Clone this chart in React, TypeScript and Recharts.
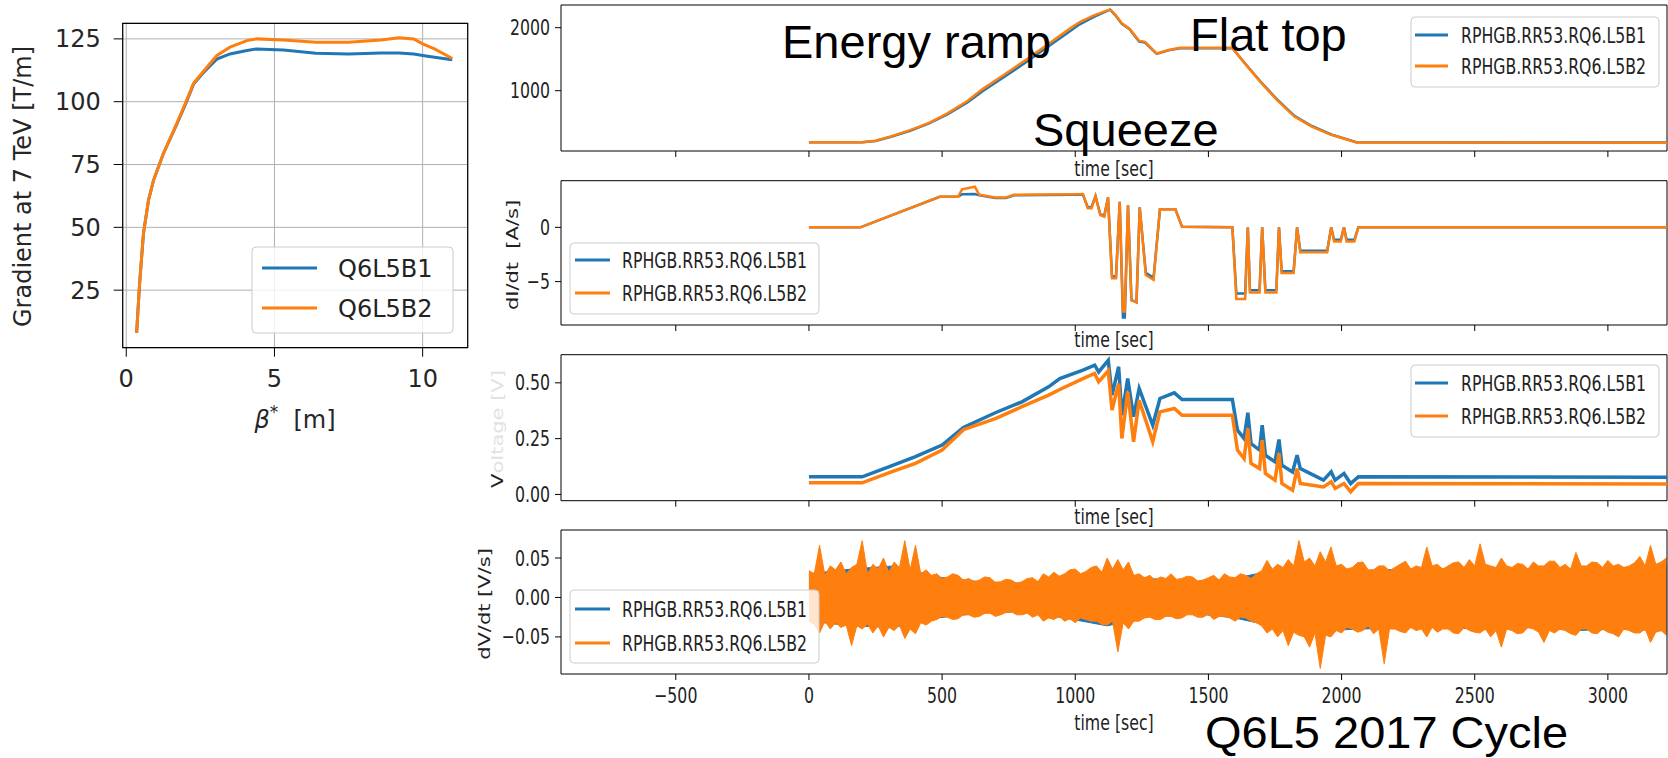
import React from 'react';
import { LineChart, Line, XAxis, YAxis, CartesianGrid, ReferenceArea, ComposedChart, Area } from 'recharts';

const C0 = '#1f77b4';
const C1 = '#ff7f0e';

// ---------- left: gradient vs beta* ----------
const betaStar = [0.35, 0.45, 0.58, 0.75, 0.92, 1.25, 1.71, 2.0, 2.27, 2.6, 3.06, 3.5, 4.07, 4.4, 5.3, 6.4, 7.5, 8.6, 9.2, 9.7, 10.0, 10.4, 11.0];
const gradQ6L5B1 = [8, 27.6, 47.5, 60.8, 68.7, 79.3, 91.2, 99, 107, 111.5, 117, 119, 120.4, 121, 120.6, 119.3, 119, 119.4, 119.4, 119, 118.4, 117.7, 116.7];
const gradQ6L5B2 = [8, 27.6, 47.5, 60.8, 68.7, 79.3, 91.5, 99.5, 107.3, 112, 118.4, 121.7, 124.3, 125, 124.6, 123.7, 123.7, 124.6, 125.4, 125, 123, 121, 117.2];
const betaTicks = [0, 5, 10];
const gradTicks = [25, 50, 75, 100, 125];

// ---------- right: time series ----------
const timeTicks = [-500, 0, 500, 1000, 1500, 2000, 2500, 3000];
const timeDomain: [number, number] = [-931, 3222];

// current [A]
const currentT = [0, 200, 250, 308, 380, 451, 520, 595, 652, 730, 811, 900, 980, 1015, 1070, 1131, 1150, 1175, 1204, 1225, 1240, 1262, 1306, 1350, 1393, 1590, 1641, 1699, 1757, 1823, 1888, 1961, 2056, 3222];
const currentB1 = [181, 181, 203, 270, 365, 482, 625, 815, 990, 1210, 1440, 1705, 1945, 2050, 2170, 2285, 2200, 2060, 1975, 1860, 1780, 1765, 1585, 1640, 1675, 1675, 1415, 1130, 865, 600, 440, 305, 182, 178];
const currentB2 = [181, 181, 205, 275, 375, 490, 640, 835, 1025, 1245, 1480, 1745, 1985, 2085, 2195, 2290, 2210, 2070, 1985, 1870, 1790, 1775, 1590, 1645, 1680, 1680, 1410, 1120, 855, 590, 430, 300, 178, 175];
const currentTicks = [1000, 2000];

// dI/dt [A/s]
const didtT = [0, 193, 491, 560, 575, 623, 640, 700, 740, 770, 1000, 1029, 1047, 1061, 1076, 1094, 1109, 1123, 1138, 1153, 1167, 1179, 1186, 1198, 1211, 1230, 1242, 1265, 1294, 1318, 1376, 1401, 1590, 1605, 1638, 1648, 1656, 1692, 1702, 1714, 1755, 1765, 1775, 1820, 1833, 1845, 1946, 1961, 1972, 1997, 2009, 2019, 2048, 2063, 3222];
const didtB1 = [0, 0, 2.82, 2.82, 3.05, 3.07, 2.95, 2.7, 2.7, 2.95, 3.0, 3.0, 1.85, 1.85, 2.88, 1.2, 1.1, 2.76, -4.5, -4.55, 2.36, -8.3, -8.3, 2.06, -6.7, -6.9, 1.84, -4.2, -4.65, 1.66, 1.66, 0.05, 0, -6.1, -6.1, 0, -5.8, -5.8, 0, -5.8, -5.8, 0, -4.05, -4.05, 0, -2.15, -2.15, 0, -1.15, -1.15, 0, -1.15, -1.15, 0, 0];
const didtB2 = [0, 0, 2.82, 2.82, 3.5, 3.74, 3.0, 2.75, 2.75, 3.0, 3.05, 3.07, 1.75, 1.75, 2.88, 1.13, 0.98, 2.76, -4.7, -4.7, 2.36, -7.76, -7.76, 2.06, -6.69, -6.93, 1.84, -4.4, -4.85, 1.66, 1.66, 0.05, 0, -6.6, -6.6, 0, -6.0, -6.0, 0, -6.0, -6.0, 0, -4.2, -4.2, 0, -2.3, -2.3, 0, -1.3, -1.3, 0, -1.3, -1.3, 0, 0];
const didtTicks = [-5, 0];

// Voltage [V]
const voltT = [0, 200, 307, 400, 500, 580, 700, 800, 900, 942, 1029, 1073, 1088, 1124, 1138, 1163, 1175, 1197, 1219, 1240, 1291, 1318, 1372, 1401, 1590, 1609, 1634, 1648, 1660, 1692, 1702, 1714, 1750, 1765, 1776, 1816, 1833, 1845, 1932, 1961, 1976, 2009, 2034, 2063, 3222];
const voltB1 = [0.079, 0.079, 0.127, 0.169, 0.221, 0.30, 0.366, 0.415, 0.482, 0.519, 0.557, 0.579, 0.549, 0.601, 0.445, 0.572, 0.355, 0.519, 0.348, 0.475, 0.31, 0.43, 0.455, 0.425, 0.425, 0.288, 0.251, 0.366, 0.228, 0.199, 0.31, 0.176, 0.146, 0.246, 0.131, 0.101, 0.176, 0.116, 0.064, 0.101, 0.064, 0.094, 0.049, 0.079, 0.077];
const voltB2 = [0.052, 0.052, 0.10, 0.139, 0.199, 0.29, 0.34, 0.393, 0.445, 0.47, 0.519, 0.542, 0.504, 0.554, 0.378, 0.497, 0.251, 0.46, 0.236, 0.422, 0.236, 0.37, 0.385, 0.355, 0.355, 0.199, 0.161, 0.296, 0.139, 0.116, 0.243, 0.094, 0.064, 0.184, 0.049, 0.019, 0.116, 0.049, 0.034, 0.057, 0.027, 0.049, 0.012, 0.049, 0.047];
const voltTicks = [0, 0.25, 0.5];

// dV/dt [V/s] noise envelopes (B2 read every 20 s, B1 every 160 s)
const dvdtT2 = [
  0, 20, 40, 60, 80, 100, 120, 140, 160, 180,
  200, 220, 240, 260, 280, 300, 320, 340, 360, 380,
  400, 420, 440, 460, 480, 500, 520, 540, 560, 580,
  600, 620, 640, 660, 680, 700, 720, 740, 760, 780,
  800, 820, 840, 860, 880, 900, 920, 940, 960, 980,
  1000, 1020, 1040, 1060, 1080, 1100, 1120, 1140, 1160, 1180,
  1200, 1220, 1240, 1260, 1280, 1300, 1320, 1340, 1360, 1380,
  1400, 1420, 1440, 1460, 1480, 1500, 1520, 1540, 1560, 1580,
  1600, 1620, 1640, 1660, 1680, 1700, 1720, 1740, 1760, 1780,
  1800, 1820, 1840, 1860, 1880, 1900, 1920, 1940, 1960, 1980,
  2000, 2020, 2040, 2060, 2080, 2100, 2120, 2140, 2160, 2180,
  2200, 2220, 2240, 2260, 2280, 2300, 2320, 2340, 2360, 2380,
  2400, 2420, 2440, 2460, 2480, 2500, 2520, 2540, 2560, 2580,
  2600, 2620, 2640, 2660, 2680, 2700, 2720, 2740, 2760, 2780,
  2800, 2820, 2840, 2860, 2880, 2900, 2920, 2940, 2960, 2980,
  3000, 3020, 3040, 3060, 3080, 3100, 3120, 3140, 3160, 3180,
  3200, 3220,
];
const dvdtB2Hi = [
  0.034, 0.03, 0.066, 0.028, 0.04, 0.035, 0.045, 0.03, 0.038, 0.042,
  0.072, 0.03, 0.042, 0.036, 0.05, 0.032, 0.045, 0.038, 0.072, 0.035,
  0.066, 0.03, 0.035, 0.028, 0.03, 0.024, 0.026, 0.03, 0.028, 0.022,
  0.024, 0.02, 0.022, 0.026, 0.025, 0.019, 0.02, 0.023, 0.022, 0.018,
  0.02, 0.024, 0.025, 0.02, 0.03, 0.026, 0.032, 0.027, 0.03, 0.035,
  0.036, 0.03, 0.033, 0.038, 0.04, 0.032, 0.05, 0.036, 0.048, 0.035,
  0.045, 0.028, 0.03, 0.025, 0.028, 0.022, 0.026, 0.024, 0.03, 0.023,
  0.024, 0.027, 0.026, 0.021, 0.022, 0.025, 0.028, 0.022, 0.03, 0.026,
  0.025, 0.03, 0.028, 0.024, 0.03, 0.034, 0.047, 0.036, 0.042, 0.038,
  0.048, 0.04, 0.072, 0.045, 0.05, 0.04, 0.058, 0.045, 0.064, 0.04,
  0.042, 0.036, 0.038, 0.044, 0.045, 0.035, 0.035, 0.04, 0.04, 0.034,
  0.038, 0.042, 0.046, 0.036, 0.04, 0.038, 0.064, 0.04, 0.042, 0.036,
  0.04, 0.044, 0.045, 0.038, 0.048, 0.04, 0.068, 0.042, 0.04, 0.038,
  0.05, 0.04, 0.038, 0.043, 0.042, 0.036, 0.045, 0.04, 0.04, 0.046,
  0.046, 0.038, 0.042, 0.036, 0.057, 0.04, 0.04, 0.045, 0.044, 0.038,
  0.047, 0.04, 0.042, 0.038, 0.04, 0.044, 0.052, 0.04, 0.066, 0.042,
  0.045, 0.05,
];
const dvdtB2Lo = [
  -0.03, -0.034, -0.045, -0.03, -0.04, -0.032, -0.038, -0.035, -0.061, -0.036,
  -0.04, -0.034, -0.045, -0.036, -0.05, -0.038, -0.042, -0.035, -0.052, -0.04,
  -0.046, -0.032, -0.035, -0.03, -0.028, -0.024, -0.025, -0.028, -0.027, -0.022,
  -0.022, -0.025, -0.024, -0.02, -0.02, -0.024, -0.022, -0.019, -0.018, -0.022,
  -0.022, -0.02, -0.025, -0.022, -0.03, -0.026, -0.028, -0.024, -0.03, -0.027,
  -0.032, -0.026, -0.028, -0.03, -0.03, -0.034, -0.035, -0.03, -0.069, -0.032,
  -0.04, -0.03, -0.03, -0.026, -0.025, -0.028, -0.028, -0.024, -0.024, -0.027,
  -0.026, -0.022, -0.022, -0.025, -0.025, -0.021, -0.028, -0.024, -0.024, -0.026,
  -0.03, -0.025, -0.026, -0.03, -0.032, -0.036, -0.045, -0.04, -0.05, -0.042,
  -0.061, -0.044, -0.048, -0.05, -0.063, -0.045, -0.09, -0.048, -0.05, -0.042,
  -0.045, -0.038, -0.04, -0.044, -0.042, -0.036, -0.046, -0.04, -0.084, -0.04,
  -0.04, -0.043, -0.045, -0.038, -0.042, -0.04, -0.05, -0.038, -0.044, -0.04,
  -0.04, -0.045, -0.046, -0.038, -0.042, -0.044, -0.045, -0.04, -0.05, -0.042,
  -0.063, -0.04, -0.042, -0.046, -0.045, -0.038, -0.04, -0.044, -0.057, -0.042,
  -0.045, -0.04, -0.042, -0.046, -0.048, -0.04, -0.04, -0.045, -0.046, -0.04,
  -0.044, -0.046, -0.05, -0.04, -0.042, -0.045, -0.045, -0.04, -0.057, -0.044,
  -0.042, -0.048,
];
const dvdtT1 = [0, 160, 320, 480, 640, 800, 960, 1120, 1280, 1440, 1600, 1760, 1920, 2080, 2240, 2400, 2560, 2720, 2880, 3040, 3200, 3220];
const dvdtB1Hi = [0.03, 0.036, 0.04, 0.026, 0.02, 0.018, 0.024, 0.033, 0.024, 0.02, 0.024, 0.036, 0.038, 0.034, 0.036, 0.036, 0.037, 0.036, 0.036, 0.038, 0.038, 0.04];
const dvdtB1Lo = [-0.03, -0.036, -0.038, -0.026, -0.02, -0.018, -0.026, -0.036, -0.024, -0.02, -0.026, -0.038, -0.042, -0.04, -0.038, -0.038, -0.041, -0.038, -0.042, -0.04, -0.042, -0.044];
const dvdtTicks = [-0.05, 0, 0.05];

// ---------- tables ----------
const leftRows = betaStar.map((b, i) => ({ beta: b, b1: gradQ6L5B1[i], b2: gradQ6L5B2[i] }));
const currentRows = currentT.map((t, i) => ({ t, b1: currentB1[i], b2: currentB2[i] }));
const didtRows = didtT.map((t, i) => ({ t, b1: didtB1[i], b2: didtB2[i] }));
const voltRows = voltT.map((t, i) => ({ t, b1: voltB1[i], b2: voltB2[i] }));
const dvdtRowsB2 = dvdtT2.map((t, i) => ({ t, r: [dvdtB2Lo[i], dvdtB2Hi[i]] }));
const dvdtRowsB1 = dvdtT1.map((t, i) => ({ t, r: [dvdtB1Lo[i], dvdtB1Hi[i]] }));

const SX = 0.75;
const FONT = 'DejaVu Sans, Verdana, sans-serif';
const ARIAL = 'Liberation Sans, Arial, sans-serif';
const minus = (s: string) => s.replace('-', '\u2212');

function SqTick(props: any) {
  const { x, y, payload, anchor, dy, fmt } = props;
  return (
    <g transform={`translate(${x},${y})`}>
      <text transform={`scale(${SX},1)`} textAnchor={anchor} dy={dy} fontSize={21} fontFamily={FONT} fill="#222">
        {fmt(payload.value)}
      </text>
    </g>
  );
}
function NoTick() {
  return <g />;
}

const RIGHT_W = 1198;
const YW = 91;

type PanelProps = {
  top: number;
  height: number;
  mTop: number;
  xH: number;
  yDomain: [number, number];
  yTicks: number[];
  yFmt: (v: number) => string;
  showXLabels?: boolean;
  children: React.ReactNode;
  rows?: any[];
};

function Panel({ top, height, mTop, xH, yDomain, yTicks, yFmt, showXLabels, children, rows }: PanelProps) {
  return (
    <div style={{ position: 'absolute', left: 470, top, width: RIGHT_W, height }}>
      <ComposedChart width={RIGHT_W} height={height} data={rows} margin={{ top: mTop, right: 1, bottom: 0, left: 0 }}>
        <XAxis
          dataKey="t"
          type="number"
          domain={timeDomain}
          allowDataOverflow
          ticks={timeTicks}
          height={xH}
          axisLine={false}
          tickLine={{ stroke: '#000' }}
          tickSize={6}
          tickMargin={8.5}
          tick={showXLabels ? <SqTick anchor="middle" dy="0.71em" fmt={(v: number) => minus(String(v))} /> : <NoTick />}
        />
        <YAxis
          type="number"
          domain={yDomain}
          allowDataOverflow
          ticks={yTicks}
          width={YW}
          axisLine={false}
          tickLine={{ stroke: '#000' }}
          tickSize={6}
          tickMargin={5}
          tick={<SqTick anchor="end" dy="0.36em" fmt={yFmt} />}
        />
        {children}
        <ReferenceArea x1={timeDomain[0]} x2={timeDomain[1]} y1={yDomain[0]} y2={yDomain[1]} fill="none" stroke="#000" strokeWidth={1} ifOverflow="visible" />
      </ComposedChart>
    </div>
  );
}

function Legend2({ x, y, w, h, ly1, ly2, lx, tx, labels, size, sx }: any) {
  return (
    <g>
      <rect x={x} y={y} width={w} height={h} rx={4} fill="#fff" fillOpacity={0.8} stroke="#cccccc" strokeWidth={1} />
      <line x1={lx[0]} x2={lx[1]} y1={ly1} y2={ly1} stroke={C0} strokeWidth={3} />
      <line x1={lx[0]} x2={lx[1]} y1={ly2} y2={ly2} stroke={C1} strokeWidth={3} />
      <g transform={`translate(${tx},${ly1})`}>
        <text transform={`scale(${sx},1)`} dy="0.36em" fontSize={size} fontFamily={FONT} fill="#222">{labels[0]}</text>
      </g>
      <g transform={`translate(${tx},${ly2})`}>
        <text transform={`scale(${sx},1)`} dy="0.36em" fontSize={size} fontFamily={FONT} fill="#222">{labels[1]}</text>
      </g>
    </g>
  );
}

function SqText({ x, y, children, anchor = 'middle' }: any) {
  return (
    <g transform={`translate(${x},${y})`}>
      <text transform={`scale(${SX},1)`} textAnchor={anchor} fontSize={21} fontFamily={FONT} fill="#222" style={{ whiteSpace: 'pre' }}>
        {children}
      </text>
    </g>
  );
}

function RotText({ x, y, children, sy = SX, size = 21 }: any) {
  return (
    <g transform={`translate(${x},${y}) rotate(-90) scale(1,${sy})`}>
      <text textAnchor="middle" fontSize={size} fontFamily={FONT} fill="#222" style={{ whiteSpace: 'pre' }}>
        {children}
      </text>
    </g>
  );
}

const RNAME = ['RPHGB.RR53.RQ6.L5B1', 'RPHGB.RR53.RQ6.L5B2'];

export default function App() {
  return (
    <div style={{ position: 'absolute', left: 0, top: 0, width: 1668, height: 758, background: '#fff', overflow: 'hidden' }}>
      {/* left chart */}
      <div style={{ position: 'absolute', left: 0, top: 0, width: 480, height: 440 }}>
        <LineChart width={480} height={440} data={leftRows} margin={{ top: 23.3, right: 12.3, bottom: 0, left: 0 }}>
          <CartesianGrid stroke="#b0b0b0" strokeWidth={1} />
          <XAxis
            dataKey="beta"
            type="number"
            domain={[-0.12, 11.52]}
            allowDataOverflow
            ticks={betaTicks}
            height={92.3}
            axisLine={false}
            tickLine={{ stroke: '#000' }}
            tickSize={9}
            tickMargin={13}
            tick={{ fontSize: 24, fontFamily: FONT, fill: '#262626' }}
          />
          <YAxis
            type="number"
            domain={[2.1, 131.2]}
            allowDataOverflow
            ticks={gradTicks}
            width={122.7}
            axisLine={false}
            tickLine={{ stroke: '#000' }}
            tickSize={9}
            tickMargin={13}
            tick={{ fontSize: 24, fontFamily: FONT, fill: '#262626' }}
          />
          <Line dataKey="b1" stroke={C0} strokeWidth={3} dot={false} isAnimationActive={false} />
          <Line dataKey="b2" stroke={C1} strokeWidth={3} dot={false} isAnimationActive={false} />
          <ReferenceArea x1={-0.12} x2={11.52} y1={2.1} y2={131.2} fill="none" stroke="#000" strokeWidth={1.2} ifOverflow="visible" />
        </LineChart>
      </div>

      {/* panel 1: current */}
      <Panel top={0} height={175} mTop={5} xH={24} yDomain={[43, 2360]} yTicks={currentTicks} yFmt={(v: number) => String(v)} rows={currentRows}>
        <Line dataKey="b1" stroke={C0} strokeWidth={2.5} dot={false} isAnimationActive={false} />
        <Line dataKey="b2" stroke={C1} strokeWidth={2.5} dot={false} isAnimationActive={false} />
      </Panel>

      {/* panel 2: dI/dt */}
      <Panel top={170} height={180} mTop={10.7} xH={25} yDomain={[-9, 4.3]} yTicks={didtTicks} yFmt={(v: number) => minus(String(v))} rows={didtRows}>
        <Line dataKey="b1" stroke={C0} strokeWidth={2.5} dot={false} isAnimationActive={false} />
        <Line dataKey="b2" stroke={C1} strokeWidth={2.5} dot={false} isAnimationActive={false} />
      </Panel>

      {/* panel 3: voltage */}
      <Panel top={344} height={181} mTop={10.7} xH={24.3} yDomain={[-0.028, 0.626]} yTicks={voltTicks} yFmt={(v: number) => v.toFixed(2)} rows={voltRows}>
        <Line dataKey="b1" stroke={C0} strokeWidth={3.5} dot={false} isAnimationActive={false} />
        <Line dataKey="b2" stroke={C1} strokeWidth={3.5} dot={false} isAnimationActive={false} />
      </Panel>

      {/* panel 4: dV/dt */}
      <Panel top={520} height={238} mTop={10} xH={84} yDomain={[-0.097, 0.0855]} yTicks={dvdtTicks} yFmt={(v: number) => minus(v.toFixed(2))} showXLabels>
        <Area data={dvdtRowsB1} dataKey="r" type="linear" stroke={C0} strokeWidth={1} fill={C0} fillOpacity={1} isAnimationActive={false} />
        <Area data={dvdtRowsB2} dataKey="r" type="linear" stroke={C1} strokeWidth={1} fill={C1} fillOpacity={1} isAnimationActive={false} />
      </Panel>

      {/* overlay texts */}
      <svg width={1668} height={758} style={{ position: 'absolute', left: 0, top: 0, pointerEvents: 'none' }}>
        {/* left chart labels */}
        <g transform="translate(31,186.5) rotate(-90)">
          <text textAnchor="middle" fontSize={24} fontFamily={FONT} fill="#262626">Gradient at 7 TeV [T/m]</text>
        </g>
        <text x={295} y={428} textAnchor="middle" fontSize={24} fontFamily={FONT} fill="#262626" style={{ whiteSpace: 'pre' }}>
          <tspan fontStyle="italic">β</tspan>
          <tspan dy={-10} fontSize={17}>*</tspan>
          <tspan dy={10}>{'  [m]'}</tspan>
        </text>
        <Legend2 x={252} y={247} w={201} h={86} ly1={268} ly2={308} lx={[262, 317]} tx={338} labels={['Q6L5B1', 'Q6L5B2']} size={24} sx={1} />

        {/* right y labels */}
        <RotText x={518} y={255}>{'dI/dt  [A/s]'}</RotText>
        <g transform="translate(503,429) rotate(-90) scale(1,0.75)">
          <text textAnchor="middle" fontSize={21} fontFamily={FONT} fill="#222">
            <tspan>V</tspan>
            <tspan fill="#e2e2e2">oltage [V]</tspan>
          </text>
        </g>
        <RotText x={490} y={604}>{'dV/dt [V/s]'}</RotText>

        {/* time labels */}
        <SqText x={1114} y={176}>time [sec]</SqText>
        <SqText x={1114} y={347}>time [sec]</SqText>
        <SqText x={1114} y={524}>time [sec]</SqText>
        <SqText x={1114} y={730}>time [sec]</SqText>

        {/* legends */}
        <Legend2 x={1411} y={17} w={248} h={70} ly1={35} ly2={66} lx={[1415, 1448]} tx={1461} labels={RNAME} size={21} sx={SX} />
        <Legend2 x={570} y={243} w={249} h={71} ly1={260} ly2={293} lx={[575, 610]} tx={622} labels={RNAME} size={21} sx={SX} />
        <Legend2 x={1411} y={365} w={248} h={72} ly1={383} ly2={416} lx={[1415, 1448]} tx={1461} labels={RNAME} size={21} sx={SX} />
        <Legend2 x={570} y={590} w={249} h={73} ly1={609} ly2={643} lx={[575, 610]} tx={622} labels={RNAME} size={21} sx={SX} />

        {/* annotations */}
        <text x={782} y={58} fontSize={47} fontFamily={ARIAL} fill="#000">Energy ramp</text>
        <text x={1190} y={51} fontSize={47} fontFamily={ARIAL} fill="#000">Flat top</text>
        <text x={1033} y={146} fontSize={47} fontFamily={ARIAL} fill="#000">Squeeze</text>
        <g transform="translate(1205,748.3) scale(1.068,1)">
          <text x={0} y={0} fontSize={44} fontFamily={ARIAL} fill="#000">Q6L5 2017 Cycle</text>
        </g>
      </svg>
    </div>
  );
}
